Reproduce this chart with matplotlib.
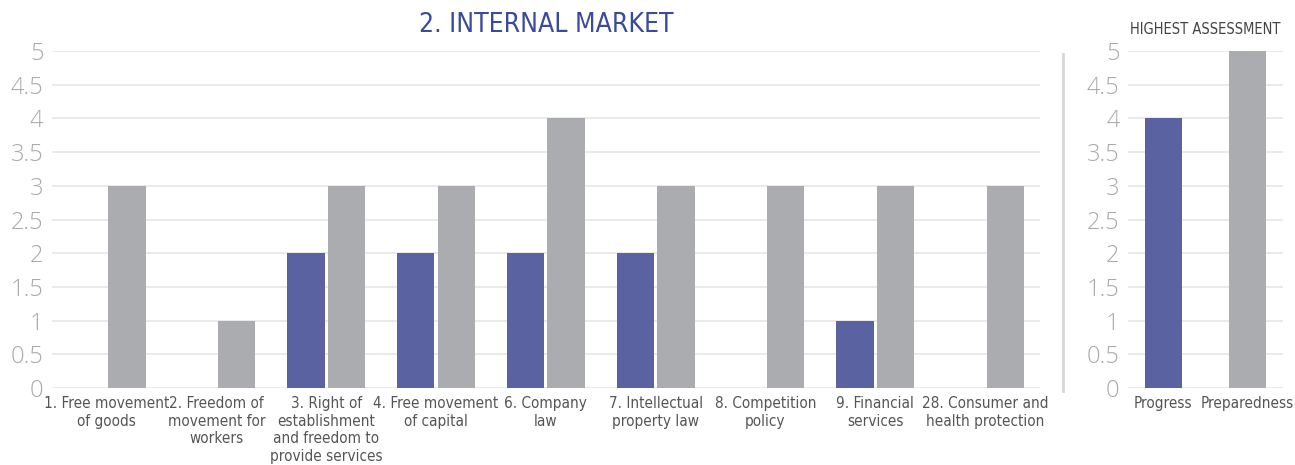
import matplotlib
matplotlib.use("Agg")
import matplotlib.pyplot as plt
import numpy as np

# chapters and scores
chapters = [
    "1. Free movement\nof goods",
    "2. Freedom of\nmovement for\nworkers",
    "3. Right of\nestablishment\nand freedom to\nprovide services",
    "4. Free movement\nof capital",
    "6. Company\nlaw",
    "7. Intellectual\nproperty law",
    "8. Competition\npolicy",
    "9. Financial\nservices",
    "28. Consumer and\nhealth protection",
]
progress = [0, 0, 2, 2, 2, 2, 0, 1, 0]
preparedness = [3, 1, 3, 3, 4, 3, 3, 3, 3]

summary_labels = ["Progress", "Preparedness"]
summary_values = [4, 5]

BLUE = "#5a62a2"
GREY = "#abacb0"
TICK = "#aaaaaa"
GRID = "#e6e6e6"
NARROW = dict(family="DejaVu Sans", stretch="condensed")
LIGHT = dict(family=["Open Sans", "DejaVu Sans"], fontweight="light")

fig = plt.figure(figsize=(12.95, 4.65), dpi=100)
ax = fig.add_axes([0.040, 0.1656, 0.763, 0.7247])
ax2 = fig.add_axes([0.871, 0.1656, 0.120, 0.7247])

yticks = np.arange(0, 5.01, 0.5)
yticklabels = ["{:g}".format(v) for v in yticks]


def style(a):
    a.set_ylim(0, 5)
    a.set_yticks(yticks)
    a.set_yticklabels(yticklabels, fontsize=17, color=TICK, **LIGHT)
    a.yaxis.grid(True, color=GRID, linewidth=1.2)
    a.set_axisbelow(True)
    for s in a.spines.values():
        s.set_visible(False)
    a.tick_params(axis="both", length=0)
    a.tick_params(axis="y", pad=6)


x = np.arange(len(chapters))
w = 0.34
gap = 0.03
ax.bar(x - (w + gap) / 2, progress, w, color=BLUE)
ax.bar(x + (w + gap) / 2, preparedness, w, color=GREY)
ax.set_xlim(-0.5, len(chapters) - 0.5)
style(ax)
ax.set_xticks(x)
ax.set_xticklabels(chapters, fontsize=11, color="#555555", linespacing=1.2, va="top", **NARROW)
ax.tick_params(axis="x", pad=6)
ax.set_title("2. INTERNAL MARKET", fontsize=19, color="#3a4a9c", pad=14, **NARROW)

x2 = np.arange(len(summary_labels))
ax2.bar(x2, summary_values, 0.44, color=[BLUE, GREY])
ax2.set_xlim(-0.42, 1.43)
style(ax2)
ax2.set_xticks(x2)
ax2.set_xticklabels(summary_labels, fontsize=11, color="#555555", **NARROW)
ax2.tick_params(axis="x", pad=6)
ax2.set_title("HIGHEST ASSESSMENT", fontsize=10.5, color="#444444", pad=12, **NARROW)

# separator between the two panels
fig.add_artist(plt.Line2D([1063 / 1295, 1063 / 1295], [1 - 391 / 465, 1 - 54 / 465],
                          color="#d6d6d6", linewidth=2))

fig.savefig("out.png", dpi=100)
